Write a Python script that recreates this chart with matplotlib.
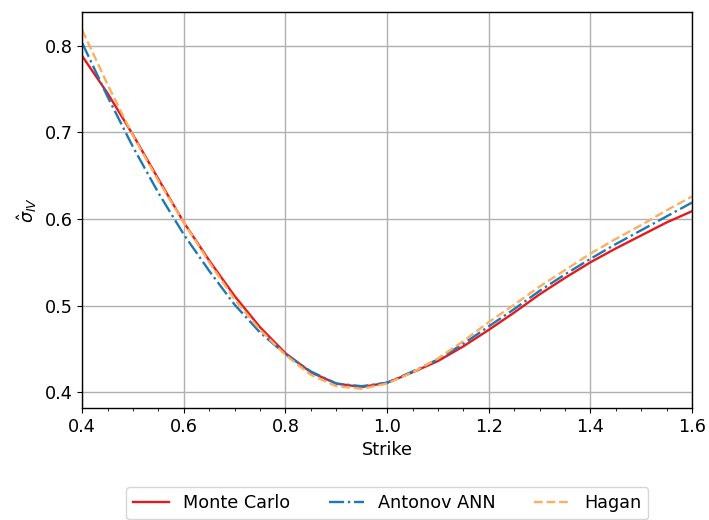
import matplotlib
matplotlib.use('Agg')
import matplotlib.pyplot as plt
from matplotlib.ticker import MultipleLocator

plt.rcParams['font.size'] = 12.7

strike = [0.40, 0.45, 0.50, 0.55, 0.60, 0.65, 0.70, 0.75, 0.80, 0.85, 0.90, 0.95,
          1.00, 1.05, 1.10, 1.15, 1.20, 1.25, 1.30, 1.35, 1.40, 1.45, 1.50, 1.55, 1.60]

# implied vols per method
iv_mc = [0.788, 0.745, 0.697, 0.646, 0.596, 0.552, 0.511, 0.475, 0.445, 0.423, 0.410, 0.406,
         0.411, 0.423, 0.436, 0.453, 0.472, 0.492, 0.513, 0.532, 0.550, 0.566, 0.581, 0.596, 0.609]
iv_ann = [0.803, 0.741, 0.683, 0.630, 0.582, 0.540, 0.501, 0.469, 0.444, 0.424, 0.410, 0.407,
          0.411, 0.424, 0.438, 0.456, 0.476, 0.496, 0.517, 0.536, 0.554, 0.571, 0.587, 0.603, 0.619]
iv_hagan = [0.818, 0.755, 0.696, 0.644, 0.596, 0.550, 0.507, 0.472, 0.443, 0.420, 0.407, 0.404,
            0.410, 0.423, 0.439, 0.459, 0.481, 0.501, 0.522, 0.541, 0.560, 0.577, 0.593, 0.610, 0.626]

fig, ax = plt.subplots(figsize=(7.09, 5.2), dpi=100)
fig.subplots_adjust(left=0.116, right=0.976, top=0.977, bottom=0.215)

ax.plot(strike, iv_mc, '-', color='#e41a1c', lw=1.7, label='Monte Carlo')
ax.plot(strike, iv_ann, '-.', color='#1f78b4', lw=1.7, label='Antonov ANN')
ax.plot(strike, iv_hagan, '--', color='#fdae61', lw=1.7, label='Hagan')

ax.set_xlim(0.4, 1.6)
ax.set_ylim(0.3816, 0.839)
ax.set_yticks([0.4, 0.5, 0.6, 0.7, 0.8])
ax.xaxis.set_minor_locator(MultipleLocator(0.05))
ax.grid(True, color='#b0b0b0', lw=1.0)
for s in ax.spines.values():
    s.set_linewidth(1.0)
ax.set_xlabel('Strike')
ax.set_ylabel(r'$\hat{\sigma}_{IV}$')

ax.legend(loc='upper center', bbox_to_anchor=(0.5, -0.177), ncol=3, frameon=True,
          columnspacing=2.2)

fig.savefig('out.png', dpi=100)
